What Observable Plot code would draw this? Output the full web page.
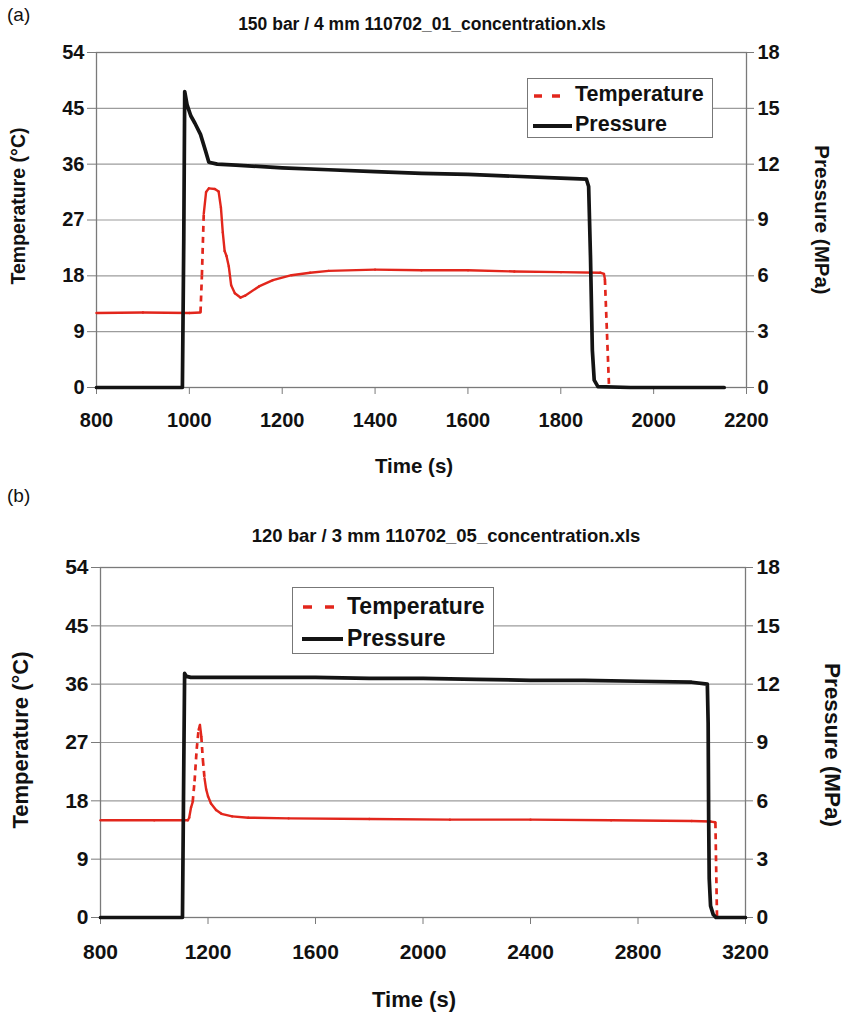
<!DOCTYPE html>
<html><head><meta charset="utf-8">
<script src="https://cdn.jsdelivr.net/npm/d3@7"></script>
<script src="https://cdn.jsdelivr.net/npm/@observablehq/plot@0.6"></script>
<style>
body{margin:0;background:#fff;font-family:"Liberation Sans",Arial,sans-serif;color:#111;}
#root{position:relative;width:846px;height:1018px;overflow:hidden;background:#fff}
.abs{position:absolute;white-space:nowrap;line-height:1}
.b{font-weight:bold}
.c{transform:translate(-50%,-50%)}
.rl{transform:translate(-50%,-50%) rotate(-90deg)}
.rr{transform:translate(-50%,-50%) rotate(90deg)}
.leg{position:absolute;border:1px solid #777;background:#fff;box-sizing:border-box}
svg.plot{position:absolute;left:0}
</style></head><body><div id="root"></div>
<script>
// ---- ticks ----
const tempTicks = [0, 9, 18, 27, 36, 45, 54];
const pressTicks = [0, 3, 6, 9, 12, 15, 18];
const xTicksA = [800, 1000, 1200, 1400, 1600, 1800, 2000, 2200];
const xTicksB = [800, 1200, 1600, 2000, 2400, 2800, 3200];

// ---- labels ----
const panelA = "(a)", panelB = "(b)";
const titleA = "150 bar / 4 mm 110702_01_concentration.xls";
const titleB = "120 bar / 3 mm 110702_05_concentration.xls";
const xLabel = "Time (s)";
const yLabelLeft = "Temperature (°C)";
const yLabelRight = "Pressure (MPa)";
const seriesNames = ["Temperature", "Pressure"];

// ---- chart (a) data ----
const timeA_P = [800, 900, 985, 988, 990, 995, 1003, 1012, 1024, 1035, 1042, 1060, 1100, 1200, 1300, 1400, 1500, 1600, 1700, 1800, 1855, 1860, 1864, 1868, 1872, 1880, 1950, 2050, 2152];
const pressA  = [0, 0, 0, 8, 15.9, 15.2, 14.6, 14.2, 13.6, 12.7, 12.1, 12.0, 11.95, 11.8, 11.7, 11.6, 11.5, 11.45, 11.35, 11.25, 11.2, 10.8, 7, 2, 0.4, 0.05, 0, 0, 0];
const timeA_T = [800, 900, 1000, 1024, 1027, 1031, 1036, 1042, 1055, 1063, 1068, 1072, 1076, 1080, 1085, 1090, 1098, 1110, 1120, 1150, 1180, 1220, 1260, 1300, 1400, 1500, 1600, 1700, 1800, 1885, 1893, 1895, 1904];
const tempA   = [12, 12.1, 12, 12.1, 18, 28, 31.5, 32.1, 32.0, 31.6, 29, 25, 22, 21.2, 19.5, 16.5, 15.2, 14.5, 14.8, 16.3, 17.3, 18.1, 18.5, 18.8, 19.0, 18.9, 18.9, 18.7, 18.6, 18.5, 18.3, 17.5, 0];

// ---- chart (b) data ----
const timeB_P = [800, 1000, 1105, 1110, 1113, 1120, 1136, 1200, 1400, 1600, 1800, 2000, 2200, 2400, 2600, 2800, 3000, 3058, 3061, 3063, 3065, 3070, 3080, 3090, 3100, 3200];
const pressB  = [0, 0, 0, 8, 12.55, 12.4, 12.35, 12.35, 12.35, 12.35, 12.3, 12.3, 12.25, 12.2, 12.2, 12.15, 12.1, 12.0, 10, 5, 2, 0.6, 0.15, 0, 0, 0];
const timeB_T = [800, 1000, 1125, 1130, 1137, 1143, 1150, 1158, 1165, 1170, 1175, 1181, 1187, 1193, 1200, 1211, 1230, 1250, 1290, 1350, 1500, 1800, 2100, 2400, 2700, 3000, 3070, 3088, 3094];
const tempB   = [15, 15, 15, 15.4, 17, 17.8, 21, 26, 29, 29.7, 28, 24.3, 21.5, 19.8, 18.7, 17.6, 16.6, 16.0, 15.6, 15.4, 15.3, 15.2, 15.1, 15.1, 15.0, 14.9, 14.8, 14.7, 0];

const RED = "#e2261c", BLACK = "#141414";
const FONT = "'Liberation Sans', Arial, sans-serif";
const P2T = 54 / 18; // right axis (MPa) onto left axis (°C)

function chart(cfg) {
  const pData = cfg.tP.map((t, i) => ({t, v: cfg.p[i] * P2T}));
  const segs = [];
  for (let i = 1; i < cfg.tT.length; i++) {
    const s = {x1: cfg.tT[i-1], y1: cfg.T[i-1], x2: cfg.tT[i], y2: cfg.T[i]};
    s.steep = Math.abs((s.y2 - s.y1) / (s.x2 - s.x1)) > cfg.dashSlope;
    segs.push(s);
  }
  const svg = Plot.plot({
    width: 846, height: cfg.height,
    marginLeft: cfg.ml, marginRight: cfg.mr, marginTop: cfg.mt, marginBottom: cfg.mb,
    x: {domain: cfg.xDomain},
    y: {domain: [0, 54]},
    style: {fontFamily: FONT, fontWeight: "bold", fontSize: cfg.tickFont + "px", color: "#111", background: "transparent", overflow: "visible"},
    marks: [
      Plot.gridY(tempTicks, {stroke: "#9c9c9c", strokeOpacity: 1, strokeWidth: 1.2}),
      Plot.frame({stroke: "#7a7a7a", strokeWidth: 1.3}),
      Plot.axisY(tempTicks, {anchor: "left", tickSize: 9, tickPadding: 3, label: null, stroke: "#7a7a7a", tickFormat: d => String(d)}),
      Plot.axisY(tempTicks, {anchor: "right", tickSize: 7, tickPadding: 4, label: null, stroke: "#7a7a7a",
        tickFormat: d => String(pressTicks[tempTicks.indexOf(d)])}),
      Plot.axisX(cfg.xTicks, {anchor: "bottom", tickSize: 7, tickPadding: cfg.xPad, label: null, stroke: "#7a7a7a", tickFormat: d => String(d)}),
      Plot.link(segs.filter(s => !s.steep), {x1: "x1", y1: "y1", x2: "x2", y2: "y2", stroke: RED, strokeWidth: 2.4, strokeLinecap: "round"}),
      Plot.link(segs.filter(s => s.steep), {x1: "x1", y1: "y1", x2: "x2", y2: "y2", stroke: RED, strokeWidth: 2.7, strokeDasharray: "6,5"}),
      Plot.line(pData, {x: "t", y: "v", stroke: BLACK, strokeWidth: 3.7, strokeLinejoin: "round", curve: "linear"})
    ]
  });
  svg.classList.add("plot");
  svg.style.top = cfg.top + "px";
  return svg;
}

const root = document.getElementById("root");
function txt(s, x, y, size, cls, extra) {
  const d = document.createElement("div");
  d.className = "abs " + (cls || "");
  d.textContent = s;
  d.style.left = x + "px"; d.style.top = y + "px"; d.style.fontSize = size + "px";
  if (extra) Object.assign(d.style, extra);
  root.appendChild(d);
  return d;
}
function legend(box, font) {
  const L = document.createElement("div");
  L.className = "leg";
  Object.assign(L.style, {left: box.x + "px", top: box.y + "px", width: box.w + "px", height: box.h + "px"});
  root.appendChild(L);
  const ns = "http://www.w3.org/2000/svg";
  const sw = document.createElementNS(ns, "svg");
  sw.setAttribute("width", box.w); sw.setAttribute("height", box.h);
  sw.style.position = "absolute"; sw.style.left = "0"; sw.style.top = "0";
  const l1 = document.createElementNS(ns, "line");
  Object.entries({x1: box.s0, x2: box.s1, y1: box.r1, y2: box.r1, stroke: RED, "stroke-width": 3.5, "stroke-dasharray": box.dash}).forEach(([k, v]) => l1.setAttribute(k, v));
  const l2 = document.createElementNS(ns, "line");
  Object.entries({x1: box.s0 - 1, x2: box.s1 + 6, y1: box.r2, y2: box.r2, stroke: BLACK, "stroke-width": 3.8}).forEach(([k, v]) => l2.setAttribute(k, v));
  sw.appendChild(l1); sw.appendChild(l2);
  L.appendChild(sw);
  txt(seriesNames[0], box.x + box.tx, box.y + box.r1, font, "b", {transform: "translateY(-50%)"});
  txt(seriesNames[1], box.x + box.tx, box.y + box.r2, font, "b", {transform: "translateY(-50%)"});
}

// chart (a)
root.appendChild(chart({top: 0, height: 490, ml: 96, mr: 100, mt: 52, mb: 103, xDomain: [800, 2200], xTicks: xTicksA,
  tP: timeA_P, p: pressA, tT: timeA_T, T: tempA, dashSlope: 1.2, tickFont: 20, xPad: 18}));
// chart (b)
root.appendChild(chart({top: 490, height: 528, ml: 100, mr: 101, mt: 77, mb: 101, xDomain: [800, 3200], xTicks: xTicksB,
  tP: timeB_P, p: pressB, tT: timeB_T, T: tempB, dashSlope: 0.35, tickFont: 21, xPad: 20}));

// texts (a)
txt(panelA, 7, 5, 19, "");
txt(titleA, 422, 25, 17.5, "b c");
txt(yLabelLeft, 19, 206, 19.5, "b rl");
txt(yLabelRight, 822, 220, 20.5, "b rr");
txt(xLabel, 414, 466, 20.5, "b c");
legend({x: 527, y: 78, w: 186, h: 60, s0: 6, s1: 38, r1: 17, r2: 47, tx: 48, dash: "8,10"}, 21.5);

// texts (b)
txt(panelB, 7, 486, 19, "");
txt(titleB, 446, 536, 18.5, "b c");
txt(yLabelLeft, 21, 740, 22, "b rl");
txt(yLabelRight, 832, 745, 22.5, "b rr");
txt(xLabel, 414, 1000, 22, "b c");
legend({x: 292, y: 587, w: 202, h: 67, s0: 10, s1: 44, r1: 19, r2: 51, tx: 55, dash: "9,13"}, 23);
</script>
</body></html>
